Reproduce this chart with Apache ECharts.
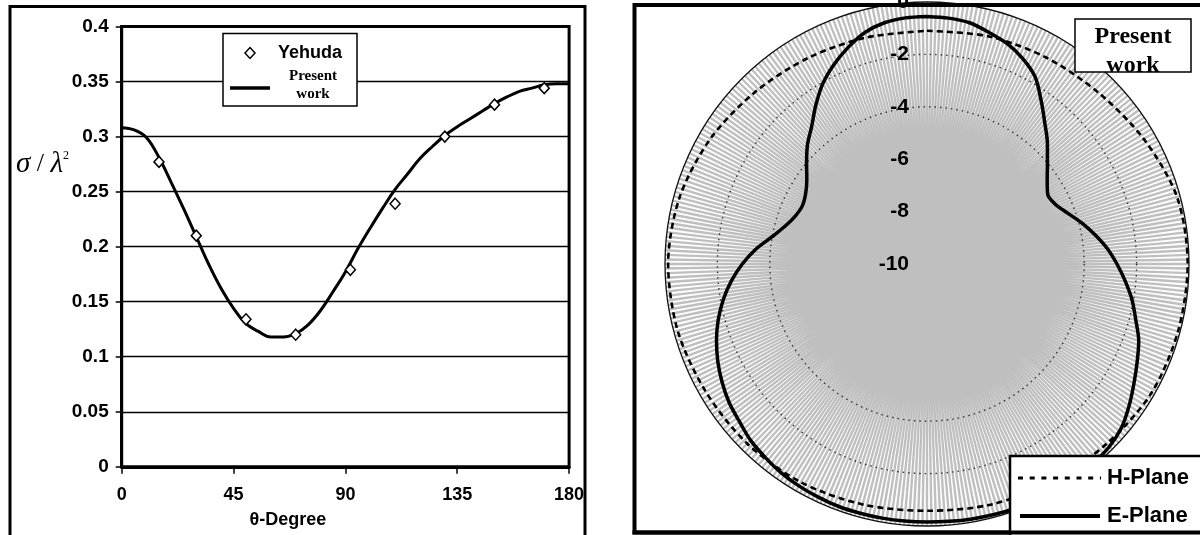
<!DOCTYPE html>
<html>
<head>
<meta charset="utf-8">
<title>Radar cross section and radiation pattern</title>
<script src="https://cdn.jsdelivr.net/npm/echarts@6/dist/echarts.min.js"></script>
<style>
  html, body { margin: 0; padding: 0; background: #fff; }
  #chart { width: 1200px; height: 535px; }
</style>
</head>
<body>
<div id="chart"></div>
<script>
// ---- Left panel: normalised RCS versus angle ----
const curveTheta = [0, 5, 10, 15, 20, 25, 30, 35, 40, 45, 50, 55, 60, 65, 70, 75, 80, 85, 90,
  95, 100, 105, 110, 115, 120, 125, 130, 135, 140, 145, 150, 155, 160, 165, 170, 175, 180];
const curveSigma = [0.308, 0.306, 0.299, 0.281, 0.258, 0.234, 0.209, 0.184, 0.162, 0.144, 0.130,
  0.123, 0.118, 0.118, 0.121, 0.129, 0.142, 0.159, 0.177, 0.198, 0.217, 0.235, 0.252, 0.266,
  0.280, 0.291, 0.301, 0.309, 0.316, 0.323, 0.330, 0.336, 0.341, 0.344, 0.347, 0.348, 0.348];

const yehudaTheta = [15, 30, 50, 70, 92, 110, 130, 150, 170];
const yehudaSigma = [0.277, 0.210, 0.134, 0.120, 0.179, 0.239, 0.300, 0.329, 0.344];

// ---- Right panel: radiation pattern (dB) ----
const eAngle = [0, 5, 10, 15, 20, 25, 30, 35, 40, 45, 50, 55, 60, 65, 70, 75, 80, 85, 90, 95,
  100, 105, 110, 115, 120, 125, 130, 135, 140, 145, 150, 155, 160, 165, 170, 175, 180, 185,
  190, 195, 200, 205, 210, 215, 220, 225, 230, 235, 240, 245, 250, 255, 260, 265, 270, 275,
  280, 285, 290, 295, 300, 305, 310, 315, 320, 325, 330, 335, 340, 345, 350, 355];
const ePlane = [-0.55, -0.58, -0.65, -0.85, -1.05, -1.35, -1.75, -2.4, -3.0, -3.5, -4.0, -4.4,
  -4.68, -4.6, -4.3, -3.9, -3.5, -3.1, -2.75, -2.4, -2.05, -1.75, -1.4, -1.15, -0.88, -0.58,
  -0.3, -0.15, -0.1, -0.08, -0.08, -0.08, -0.08, -0.1, -0.12, -0.14, -0.15, -0.15, -0.15,
  -0.15, -0.15, -0.18, -0.22, -0.28, -0.38, -0.48, -0.65, -0.78, -0.97, -1.19, -1.45, -1.75,
  -2.1, -2.5, -2.95, -3.45, -4.0, -4.4, -4.65, -4.75, -4.65, -4.4, -4.0, -3.55, -3.15, -2.6,
  -2.05, -1.6, -1.2, -0.85, -0.65, -0.57];

const hAngle = [0, 15, 30, 45, 60, 75, 90, 105, 120, 135, 150, 165, 180, 195, 210, 225, 240,
  255, 270, 285, 300, 315, 330, 345];
const hPlane = [-1.1, -1.0, -0.9, -0.75, -0.45, -0.12, -0.05, -0.08, -0.12, -0.3, -0.42, -0.5,
  -0.58, -0.5, -0.38, -0.3, -0.25, -0.15, -0.12, -0.22, -0.45, -0.72, -0.92, -1.05];

const radiusTicks = [-10, -8, -6, -4, -2, 0];

// pair helpers
const xy = (xs, ys) => xs.map((x, i) => [x, ys[i]]);
const closedPolar = (angles, vals) => {
  const pts = angles.map((a, i) => [vals[i], a]);
  pts.push([vals[0], 360]);
  return pts;
};

const SANS = '"Liberation Sans", Arial, sans-serif';
const SERIF = '"Liberation Serif", "Times New Roman", serif';

const chart = echarts.init(document.getElementById('chart'), null, { renderer: 'canvas' });

const option = {
  animation: false,
  backgroundColor: '#ffffff',
  grid: {
    left: 121.7, top: 26.5, width: 447.4, height: 440.3,
    show: true, borderColor: '#000', borderWidth: 3, backgroundColor: 'transparent'
  },
  xAxis: {
    type: 'value', min: 0, max: 180, interval: 45,
    axisLine: { lineStyle: { color: '#000', width: 3 } },
    axisTick: { show: true, length: 7, lineStyle: { color: '#000', width: 1.5 } },
    axisLabel: { margin: 19, color: '#000', fontFamily: SANS, fontWeight: 'bold', fontSize: 18 },
    splitLine: { show: false }
  },
  yAxis: {
    type: 'value', min: 0, max: 0.4, interval: 0.05,
    axisLine: { show: true, lineStyle: { color: '#000', width: 3 } },
    axisTick: { show: true, length: 6, lineStyle: { color: '#000', width: 1.5 } },
    axisLabel: {
      margin: 13, color: '#000', fontFamily: SANS, fontWeight: 'bold', fontSize: 19,
      formatter: v => String(+v.toFixed(2))
    },
    splitLine: { show: true, lineStyle: { color: '#000', width: 1.3 } }
  },
  polar: { center: [927, 264], radius: 262 },
  angleAxis: {
    type: 'value', min: 0, max: 360, interval: 1,
    startAngle: 90, clockwise: true, z: 1,
    axisLine: { show: true, lineStyle: { color: '#111', width: 1.3 } },
    axisTick: { show: false },
    axisLabel: { show: false },
    splitLine: { show: true, lineStyle: { color: '#bfbfbf', width: 2.4 } }
  },
  radiusAxis: {
    type: 'value', min: radiusTicks[0], max: radiusTicks[radiusTicks.length - 1], interval: 2,
    z: 3,
    axisLine: { show: false },
    axisTick: { show: false },
    axisLabel: {
      show: true, margin: 18, color: '#000', fontFamily: SANS, fontWeight: 'bold', fontSize: 21
    },
    splitLine: {
      show: true,
      lineStyle: {
        color: ['rgba(0,0,0,0)', 'rgba(0,0,0,0)', 'rgba(0,0,0,0)', '#333', '#333', 'rgba(0,0,0,0)'],
        width: 1.4, type: [1.5, 4]
      }
    }
  },
  series: [
    {
      name: 'Present work', type: 'line', xAxisIndex: 0, yAxisIndex: 0,
      data: xy(curveTheta, curveSigma), smooth: 0.4, showSymbol: false, z: 3,
      lineStyle: { color: '#000', width: 3 }
    },
    {
      name: 'Yehuda', type: 'scatter', xAxisIndex: 0, yAxisIndex: 0,
      data: xy(yehudaTheta, yehudaSigma), symbol: 'diamond', symbolSize: [10, 11], z: 4,
      itemStyle: { color: '#fff', borderColor: '#000', borderWidth: 1.5, opacity: 1 }
    },
    {
      name: 'H-Plane', type: 'line', coordinateSystem: 'polar',
      data: closedPolar(hAngle, hPlane), smooth: 0.3, showSymbol: false, z: 4,
      lineStyle: { color: '#000', width: 2.6, type: [6, 4] }
    },
    {
      name: 'E-Plane', type: 'line', coordinateSystem: 'polar',
      data: closedPolar(eAngle, ePlane), smooth: 0.3, showSymbol: false, z: 5,
      lineStyle: { color: '#000', width: 3.5 }
    }
  ],
  graphic: [
    // panel frames
    { type: 'rect', z: 100, shape: { x: 10, y: 6.5, width: 575, height: 560 },
      style: { fill: 'none', stroke: '#000', lineWidth: 3 } },
    { type: 'rect', z: 100, shape: { x: 634.5, y: 5, width: 600, height: 527.5 },
      style: { fill: 'none', stroke: '#000', lineWidth: 4 } },

    // left axis titles
    { type: 'text', z: 100, style: {
        x: 288, y: 520, text: 'θ-Degree', font: 'bold 18px ' + SANS, fill: '#000',
        align: 'center', verticalAlign: 'middle', textAlign: 'center', textVerticalAlign: 'middle' } },
    { type: 'text', z: 100, style: {
        x: 16, y: 164, text: '{g|σ}{s| / }{g|λ}{p|2}', fill: '#000',
        verticalAlign: 'middle', textVerticalAlign: 'middle',
        rich: {
          g: { fontFamily: SERIF, fontStyle: 'italic', fontSize: 29, fill: '#000' },
          s: { fontFamily: SERIF, fontSize: 26, fill: '#000' },
          p: { fontFamily: SERIF, fontSize: 12, fill: '#000', verticalAlign: 'top', padding: [0, 0, 16, 0] }
        } } },

    // left legend
    { type: 'rect', z: 100, shape: { x: 223, y: 33.5, width: 134, height: 72.5 },
      style: { fill: '#fff', stroke: '#000', lineWidth: 1.5 } },
    { type: 'polygon', z: 101, shape: { points: [[250, 47.5], [255, 53], [250, 58.5], [245, 53]] },
      style: { fill: '#fff', stroke: '#000', lineWidth: 1.5 } },
    { type: 'text', z: 101, style: {
        x: 278, y: 53, text: 'Yehuda', font: 'bold 18px ' + SANS, fill: '#000',
        align: 'left', verticalAlign: 'middle', textAlign: 'left', textVerticalAlign: 'middle' } },
    { type: 'line', z: 101, shape: { x1: 230, y1: 88, x2: 270, y2: 88 },
      style: { stroke: '#000', lineWidth: 3.5 } },
    { type: 'text', z: 101, style: {
        x: 313, y: 85, text: 'Present\nwork', font: 'bold 15px ' + SERIF, fill: '#000',
        lineHeight: 18,
        align: 'center', verticalAlign: 'middle', textAlign: 'center', textVerticalAlign: 'middle' } },

    // right panel caption box
    { type: 'rect', z: 100, shape: { x: 1075, y: 19, width: 116, height: 53 },
      style: { fill: '#fff', stroke: '#000', lineWidth: 1.5 } },
    { type: 'text', z: 101, style: {
        x: 1133, y: 51, text: 'Present\nwork', font: 'bold 24px ' + SERIF, fill: '#000',
        lineHeight: 29,
        align: 'center', verticalAlign: 'middle', textAlign: 'center', textVerticalAlign: 'middle' } },

    // right legend
    { type: 'rect', z: 100, shape: { x: 1010, y: 456, width: 220, height: 90 },
      style: { fill: '#fff', stroke: '#000', lineWidth: 2.5 } },
    { type: 'line', z: 101, shape: { x1: 1018, y1: 478, x2: 1101, y2: 478 },
      style: { stroke: '#000', lineWidth: 3, lineDash: [5, 6.7] } },
    { type: 'text', z: 101, style: {
        x: 1107, y: 478, text: 'H-Plane', font: 'bold 22px ' + SANS, fill: '#000',
        align: 'left', verticalAlign: 'middle', textAlign: 'left', textVerticalAlign: 'middle' } },
    { type: 'line', z: 101, shape: { x1: 1020, y1: 516, x2: 1100, y2: 516 },
      style: { stroke: '#000', lineWidth: 4 } },
    { type: 'text', z: 101, style: {
        x: 1107, y: 516, text: 'E-Plane', font: 'bold 22px ' + SANS, fill: '#000',
        align: 'left', verticalAlign: 'middle', textAlign: 'left', textVerticalAlign: 'middle' } },
    // bottom frame edge redrawn over the legend
    { type: 'line', z: 102, shape: { x1: 632.5, y1: 532.5, x2: 1200, y2: 532.5 },
      style: { stroke: '#000', lineWidth: 4 } }
  ]
};

chart.setOption(option);
</script>
</body>
</html>
